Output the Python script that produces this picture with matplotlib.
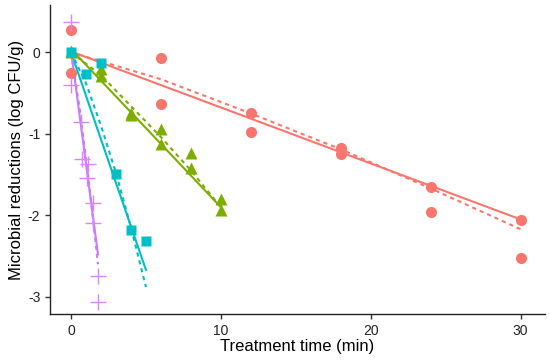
import matplotlib
matplotlib.use("Agg")
import matplotlib.pyplot as plt

plt.rcParams['font.family'] = ['Liberation Sans', 'DejaVu Sans']

# Observed data (time in min, log reduction)
red_t = [0, 0, 6, 6, 12, 12, 18, 18, 24, 24, 30, 30]
red_y = [0.27, -0.25, -0.07, -0.63, -0.75, -0.98, -1.17, -1.25, -1.65, -1.96, -2.06, -2.52]

green_t = [0, 0, 2, 2, 4, 4, 6, 6, 8, 8, 10, 10]
green_y = [0.02, 0.0, -0.20, -0.29, -0.74, -0.77, -0.94, -1.13, -1.23, -1.42, -1.80, -1.94]

cyan_t = [0, 1, 2, 3, 4, 5]
cyan_y = [0.0, -0.27, -0.13, -1.49, -2.18, -2.31]

purple_t = [0, 0, 0.65, 0.75, 1.05, 1.1, 1.45, 1.45, 1.8, 1.8]
purple_y = [0.37, -0.40, -0.86, -1.31, -1.54, -1.37, -1.85, -2.10, -2.75, -3.06]

# Fitted lines: linear (solid) and Weibull-type (dashed)
red_lin_t = [0, 30]
red_lin_y = [0.01, -2.05]
red_wb_t = [0, 6, 12, 18, 24, 30]
red_wb_y = [0, -0.33, -0.75, -1.19, -1.67, -2.17]

green_lin_t = [0, 10]
green_lin_y = [0.04, -1.90]
green_wb_t = [0, 2, 4, 6, 8, 10]
green_wb_y = [0, -0.28, -0.66, -1.04, -1.45, -1.90]

cyan_lin_t = [0, 5]
cyan_lin_y = [0.0, -2.67]
cyan_wb_t = [0, 1, 2, 3, 4, 5]
cyan_wb_y = [0, -0.38, -0.90, -1.48, -2.15, -2.88]

purple_lin_t = [0, 1.8]
purple_lin_y = [0.02, -2.48]
purple_wb_t = [0, 0.6, 1.2, 1.8]
purple_wb_y = [0, -0.72, -1.60, -2.60]

RED, GREEN, CYAN, PURPLE = '#F8766D', '#7CAE00', '#00BFC4', '#C77CFF'

fig = plt.figure(figsize=(5.5, 3.6), dpi=100)
ax = fig.add_axes([0.091, 0.128, 0.899, 0.858])

lw = 1.5
dash = (0, (2.0, 1.9))
ax.plot(red_lin_t, red_lin_y, color=RED, lw=lw, zorder=2)
ax.plot(red_wb_t, red_wb_y, color=RED, lw=lw, ls=dash, zorder=2)
ax.plot(green_lin_t, green_lin_y, color=GREEN, lw=lw, zorder=2)
ax.plot(green_wb_t, green_wb_y, color=GREEN, lw=lw, ls=dash, zorder=2)
ax.plot(cyan_lin_t, cyan_lin_y, color=CYAN, lw=lw, zorder=2)
ax.plot(cyan_wb_t, cyan_wb_y, color=CYAN, lw=lw, ls=dash, zorder=2)
ax.plot(purple_lin_t, purple_lin_y, color=PURPLE, lw=lw, zorder=2)
ax.plot(purple_wb_t, purple_wb_y, color=PURPLE, lw=lw, ls=dash, zorder=2)

ax.plot(red_t, red_y, 'o', color=RED, ms=8, mec='none', zorder=3)
ax.plot(green_t, green_y, '^', color=GREEN, ms=9, mec='none', zorder=3)
ax.plot(cyan_t, cyan_y, 's', color=CYAN, ms=7.3, mec='none', zorder=3)
ax.plot(purple_t, purple_y, '+', color='#DA85FA', ms=11, mew=1.0, zorder=3)

ax.set_xlim(-1.4, 31.6)
ax.set_ylim(-3.21, 0.58)
ax.set_xticks([0, 10, 20, 30])
ax.set_yticks([0, -1, -2, -3])
ax.set_yticklabels(['0', '-1', '-2', '-3'])

for s in ['top', 'right']:
    ax.spines[s].set_visible(False)
for s in ['left', 'bottom']:
    ax.spines[s].set_linewidth(1.0)
    ax.spines[s].set_color('#222222')
ax.tick_params(direction='out', length=3.5, width=1.0, color='#333333',
               labelsize=10, labelcolor='#222222')

ax.set_xlabel('Treatment time (min)', fontsize=12, labelpad=1, color='black')
ax.set_ylabel('Microbial reductions (log CFU/g)', fontsize=12, labelpad=3, color='black')

fig.savefig('out.png', dpi=100)
